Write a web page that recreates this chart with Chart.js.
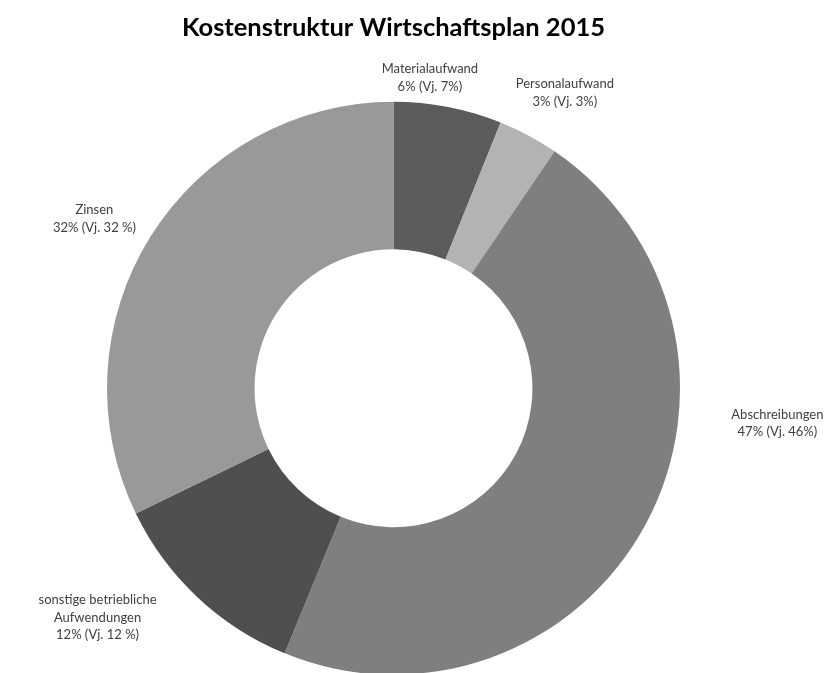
<!DOCTYPE html>
<html>
<head>
<meta charset="utf-8">
<script src="https://cdn.jsdelivr.net/npm/chart.js@4/dist/chart.umd.min.js"></script>
<style>
  html, body { margin: 0; padding: 0; background: #fff; overflow: hidden; }
  canvas { display: block; }
</style>
</head>
<body>
<canvas id="kosten" width="838" height="676"></canvas>
<script>
// Daten
const kategorien = ["Materialaufwand", "Personalaufwand", "Abschreibungen", "sonstige betriebliche Aufwendungen", "Zinsen"];
const anteile = [6.1, 3.4, 46.7, 11.6, 32.2];
const beschriftungen = [
    ["Materialaufwand", "6% (Vj. 7%)"],
    ["Personalaufwand", "3% (Vj. 3%)"],
    ["Abschreibungen", "47% (Vj. 46%)"],
    ["sonstige betriebliche", "Aufwendungen", "12% (Vj. 12 %)"],
    ["Zinsen", "32% (Vj. 32 %)"]
];
const farben = ["#5c5c5c", "#b3b3b3", "#7f7f7f", "#4f4f4f", "#999999"];

// Lage der Beschriftungen relativ zum Mittelpunkt, in Vielfachen des Aussenradius
const labelLage = [[0.127, -1.084], [0.598, -1.031], [1.34, 0.122], [-1.033, 0.801], [-1.044, -0.592]];

const beschriftungPlugin = {
    id: 'beschriftung',
    afterDatasetsDraw(chart) {
        const ctx = chart.ctx;
        const meta = chart.getDatasetMeta(0);
        ctx.save();
        ctx.font = '13px Lato, "Open Sans", sans-serif';
        ctx.fillStyle = '#404040';
        ctx.textAlign = 'center';
        ctx.textBaseline = 'middle';
        meta.data.forEach((arc, i) => {
            const r = arc.outerRadius;
            const cx = arc.x + labelLage[i][0] * r;
            const cy = arc.y + labelLage[i][1] * r;
            const zeilen = beschriftungen[i];
            const lh = 17.5;
            zeilen.forEach((z, j) => {
                ctx.fillText(z, cx, cy + (j - (zeilen.length - 1) / 2) * lh);
            });
        });
        ctx.restore();
    }
};

new Chart(document.getElementById('kosten'), {
    type: 'doughnut',
    data: {
        labels: kategorien,
        datasets: [{
            data: anteile,
            backgroundColor: farben,
            borderWidth: 0,
            hoverOffset: 0
        }]
    },
    options: {
        responsive: false,
        animation: false,
        cutout: '48.5%',
        layout: { padding: { left: 107, right: 158, top: 0, bottom: 0 } },
        plugins: {
            legend: { display: false },
            tooltip: { enabled: false },
            title: {
                display: true,
                text: 'Kostenstruktur Wirtschaftsplan 2015',
                color: '#000',
                font: { family: 'Lato, "Open Sans", sans-serif', size: 25.5, weight: 'bold' },
                padding: { top: 12, bottom: 58 }
            }
        }
    },
    plugins: [beschriftungPlugin]
});
</script>
</body>
</html>
